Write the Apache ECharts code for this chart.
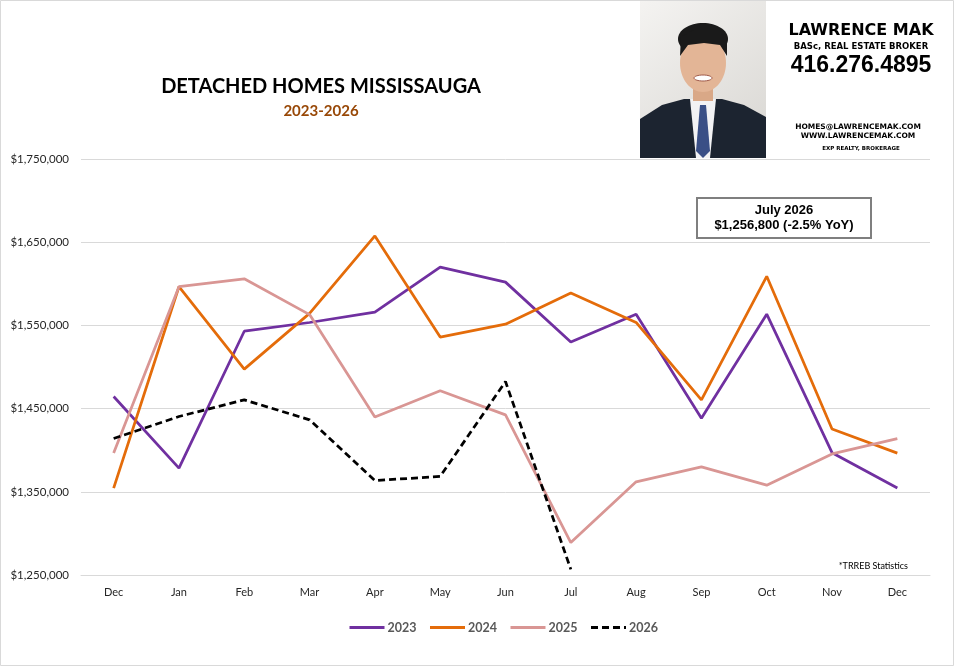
<!DOCTYPE html>
<html>
<head>
<meta charset="utf-8">
<script src="https://cdn.jsdelivr.net/npm/echarts@6/dist/echarts.min.js"></script>
<style>
  html, body {margin: 0; padding: 0; background: #fff;}
  #chart {width: 954px; height: 666px;}
</style>
</head>
<body>
<div id="chart"></div>
<script>
// months, Dec of the previous year through Dec
const months = ['Dec', 'Jan', 'Feb', 'Mar', 'Apr', 'May', 'Jun', 'Jul', 'Aug', 'Sep', 'Oct', 'Nov', 'Dec'];
const yearNames = ['2023', '2024', '2025', '2026'];

// average price
const data2023 = [1464500, 1378500, 1543000, 1553500, 1566000, 1620000, 1602000, 1530000, 1563500, 1438500, 1563500, 1397000, 1354500];
const data2024 = [1354500, 1596500, 1497500, 1564500, 1657500, 1536000, 1551500, 1589000, 1553500, 1460500, 1609000, 1425500, 1396500];
const data2025 = [1396500, 1596500, 1606000, 1563000, 1440000, 1471500, 1442500, 1289000, 1362000, 1380000, 1358000, 1395500, 1414000];
const data2026 = [1414000, 1440500, 1460500, 1436500, 1363500, 1368500, 1482500, 1256800];

const yTicks = [1250000, 1350000, 1450000, 1550000, 1650000, 1750000];

const colors = ['#7030A0', '#E46C0A', '#D99694', '#000000'];
const font = 'Lato, "Noto Sans", sans-serif';
const heavy = '"DejaVu Sans", Verdana, sans-serif';

function money(v) {
  return '$' + v.toLocaleString('en-US');
}

const chart = echarts.init(document.getElementById('chart'));

chart.setOption({
  animation: false,
  backgroundColor: '#fff',
  textStyle: {fontFamily: font},
  title: [{
    text: 'DETACHED HOMES MISSISSAUGA',
    left: 316, top: 72, textAlign: 'center',
    textStyle: {fontSize: 20, fontWeight: 'bold', color: '#000', fontFamily: font}
  }, {
    text: '2023-2026',
    left: 316, top: 99, textAlign: 'center',
    textStyle: {fontSize: 15, fontWeight: 'bold', color: '#984807', fontFamily: font}
  }],
  legend: {
    data: yearNames,
    left: 343, top: 616,
    itemWidth: 35, itemHeight: 12, itemGap: 12,
    itemStyle: {opacity: 0},
    lineStyle: {width: 3},
    textStyle: {color: '#595959', fontSize: 12.5, fontWeight: 'bold', fontFamily: font, padding: [0, 0, 0, -2]}
  },
  grid: {left: 81, right: 24, top: 159, bottom: 91},
  xAxis: {
    type: 'category',
    data: months,
    boundaryGap: true,
    axisLine: {lineStyle: {color: '#d9d9d9'}},
    axisTick: {show: false},
    axisLabel: {color: '#262626', fontSize: 11, margin: 12, fontFamily: font}
  },
  yAxis: {
    type: 'value',
    min: yTicks[0],
    max: yTicks[yTicks.length - 1],
    interval: 100000,
    axisLine: {show: false},
    axisTick: {show: false},
    splitLine: {lineStyle: {color: '#d9d9d9'}},
    axisLabel: {color: '#262626', fontSize: 11.5, margin: 12, fontFamily: font, formatter: money}
  },
  series: [
    {name: '2023', type: 'line', data: data2023, symbol: 'none', lineStyle: {color: colors[0], width: 2.75}, itemStyle: {color: colors[0]}},
    {name: '2024', type: 'line', data: data2024, symbol: 'none', lineStyle: {color: colors[1], width: 2.75}, itemStyle: {color: colors[1]}},
    {name: '2025', type: 'line', data: data2025, symbol: 'none', lineStyle: {color: colors[2], width: 2.75}, itemStyle: {color: colors[2]}},
    {name: '2026', type: 'line', data: data2026, symbol: 'none', z: 5, lineStyle: {color: colors[3], width: 2.75, type: [7, 4]}, itemStyle: {color: colors[3]}}
  ],
  graphic: [
    // outer chart frame
    {type: 'rect', shape: {x: 0.5, y: 0.5, width: 953, height: 665}, style: {fill: 'none', stroke: '#d9d9d9', lineWidth: 1}, silent: true},
    // photo stand-in
    {type: 'group', x: 640, y: 1, children: [
      {type: 'rect', shape: {x: 0, y: 0, width: 126, height: 157}, style: {fill: new echarts.graphic.LinearGradient(0, 0, 1, 1, [{offset: 0, color: '#f4f3f1'}, {offset: 1, color: '#d8d6d2'}])}},
      {type: 'polygon', shape: {points: [[0, 157], [0, 118], [22, 104], [44, 98], [82, 98], [104, 104], [126, 116], [126, 157]]}, style: {fill: '#1c2430'}},
      {type: 'polygon', shape: {points: [[50, 98], [76, 98], [70, 157], [56, 157]]}, style: {fill: '#f2f2f4'}},
      {type: 'polygon', shape: {points: [[60, 104], [66, 104], [70, 150], [63, 157], [56, 150]]}, style: {fill: '#3a4f86'}},
      {type: 'rect', shape: {x: 53, y: 82, width: 20, height: 18}, style: {fill: '#d9a887'}},
      {type: 'ellipse', shape: {cx: 63, cy: 38, rx: 25, ry: 16}, style: {fill: '#1a1a1a'}},
      {type: 'ellipse', shape: {cx: 63, cy: 62, rx: 23, ry: 29}, style: {fill: '#e3b596'}},
      {type: 'polygon', shape: {points: [[40, 55], [41, 36], [55, 28], [75, 28], [87, 38], [87, 55], [80, 44], [64, 42], [48, 44]]}, style: {fill: '#1a1a1a'}},
      {type: 'ellipse', shape: {cx: 63, cy: 77, rx: 9, ry: 3}, style: {fill: '#ffffff', stroke: '#a05a4a', lineWidth: 1}}
    ]},
    // contact block
    {type: 'text', style: {text: 'LAWRENCE MAK', x: 861, y: 31, textAlign: 'center', textVerticalAlign: 'middle', fill: '#000', font: 'bold 16px ' + heavy}},
    {type: 'text', style: {text: 'BASc, REAL ESTATE BROKER', x: 861, y: 46.5, textAlign: 'center', textVerticalAlign: 'middle', fill: '#000', font: 'bold 8.5px ' + heavy}},
    {type: 'text', style: {text: '416.276.4895', x: 861, y: 66, textAlign: 'center', textVerticalAlign: 'middle', fill: '#000', font: 'bold 23px "Liberation Sans", Arial, sans-serif'}},
    {type: 'text', style: {text: 'HOMES@LAWRENCEMAK.COM', x: 858, y: 127, textAlign: 'center', textVerticalAlign: 'middle', fill: '#000', font: 'bold 7.5px ' + heavy}},
    {type: 'text', style: {text: 'WWW.LAWRENCEMAK.COM', x: 858, y: 136, textAlign: 'center', textVerticalAlign: 'middle', fill: '#000', font: 'bold 7.5px ' + heavy}},
    {type: 'text', style: {text: 'EXP REALTY, BROKERAGE', x: 861, y: 149, textAlign: 'center', textVerticalAlign: 'middle', fill: '#000', font: 'bold 5.5px ' + heavy}},
    // July 2026 callout
    {type: 'rect', shape: {x: 697, y: 198, width: 174, height: 40}, style: {fill: '#fff', stroke: '#7f7f7f', lineWidth: 2}},
    {type: 'text', style: {text: 'July 2026\n$1,256,800 (-2.5% YoY)', x: 784, y: 203, textAlign: 'center', lineHeight: 15, fill: '#000', font: 'bold 13px "Liberation Sans", Arial, sans-serif'}},
    {type: 'text', style: {text: '*TRREB Statistics', x: 908, y: 562, textAlign: 'right', fill: '#000', font: '9px ' + font}}
  ]
});
</script>
</body>
</html>
